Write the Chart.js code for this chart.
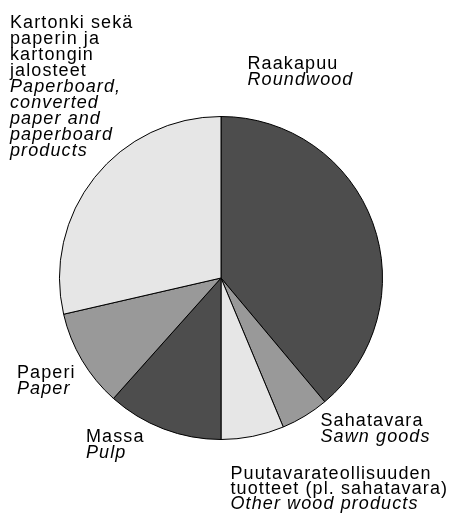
<!DOCTYPE html>
<html>
<head>
<meta charset="utf-8">
<script src="https://cdn.jsdelivr.net/npm/chart.js@4"></script>
<style>
  html, body { margin: 0; padding: 0; background: #fff; }
  #wrap { width: 450px; height: 513px; }
</style>
</head>
<body>
<div id="wrap"><canvas id="myPieChart" width="450" height="513"></canvas></div>
<script>
// categories (Finnish / English lines)
const categoriesFi = [
    ['Raakapuu'],
    ['Sahatavara'],
    ['Puutavarateollisuuden', 'tuotteet (pl. sahatavara)'],
    ['Massa'],
    ['Paperi'],
    ['Kartonki sekä', 'paperin ja', 'kartongin', 'jalosteet']
];
const categoriesEn = [
    ['Roundwood'],
    ['Sawn goods'],
    ['Other wood products'],
    ['Pulp'],
    ['Paper'],
    ['Paperboard,', 'converted', 'paper and', 'paperboard', 'products']
];
// share of total, %
const shares = [38.9, 4.8, 6.3, 11.6, 9.8, 28.6];
const sliceColors = ['#4d4d4d', '#999999', '#e6e6e6', '#4d4d4d', '#999999', '#e6e6e6'];

// where each text block starts (left x, first baseline, line step)
const labelPos = [
    [247.5, 68.5, 16],
    [320.5, 426, 16],
    [230.5, 479, 15],
    [86, 441.5, 16],
    [17, 377.5, 16],
    [10, 27.5, 16]
];

const sliceLabels = {
    id: 'sliceLabels',
    afterDraw(chart) {
        const ctx = chart.ctx;
        ctx.save();
        ctx.fillStyle = '#000';
        ctx.textBaseline = 'alphabetic';
        ctx.textAlign = 'left';
        if ('letterSpacing' in ctx) ctx.letterSpacing = '1.1px';
        categoriesFi.forEach(function(fi, i) {
            const [x, y, step] = labelPos[i];
            let line = 0;
            ctx.font = '18px "Liberation Sans", Arial, sans-serif';
            fi.forEach(function(t) { ctx.fillText(t, x, y + step * line++); });
            ctx.font = 'italic 18px "Liberation Sans", Arial, sans-serif';
            categoriesEn[i].forEach(function(t) { ctx.fillText(t, x, y + step * line++); });
        });
        ctx.restore();
    }
};

document.addEventListener('DOMContentLoaded', function() {
    const ctx = document.getElementById('myPieChart').getContext('2d');

    new Chart(ctx, {
        type: 'pie',
        data: {
            labels: categoriesEn.map(l => l.join(' ')),
            datasets: [{
                data: shares,
                backgroundColor: sliceColors,
                borderColor: '#000',
                borderWidth: 1
            }]
        },
        options: {
            responsive: false,
            animation: false,
            events: [],
            layout: {
                padding: { left: 59, right: 67, top: 116, bottom: 73 }
            },
            plugins: {
                legend: { display: false },
                tooltip: { enabled: false }
            }
        },
        plugins: [sliceLabels]
    });
});
</script>
</body>
</html>
